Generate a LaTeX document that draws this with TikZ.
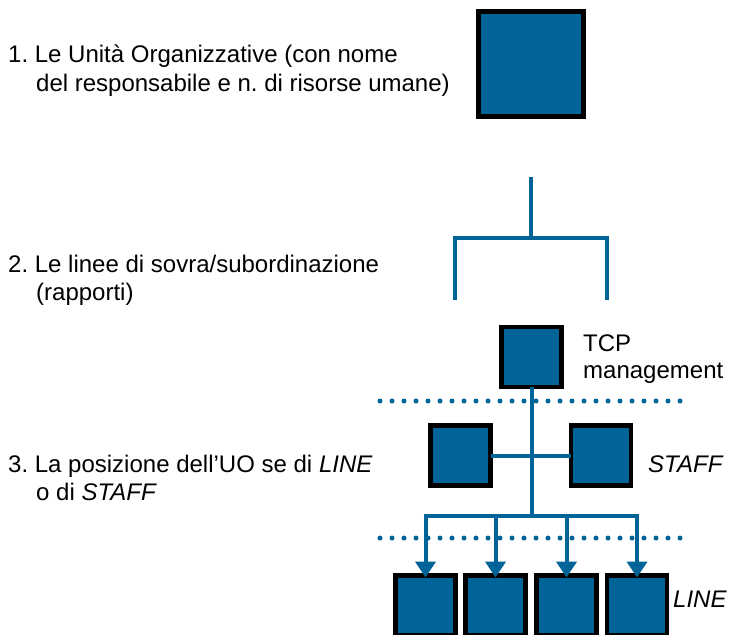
\documentclass[tikz,border=0pt]{standalone}
\usepackage{fontspec}
\setmainfont{Liberation Sans}
\usetikzlibrary{arrows.meta}
\definecolor{uoblue}{RGB}{0,100,152}
\frenchspacing
\begin{document}
\begin{tikzpicture}[x=1bp,y=-1bp,
  ubox/.style={draw=black,fill=uoblue,line width=4.5bp,inner sep=0pt,outer sep=0pt},
  big/.style={ubox,minimum width=105bp,minimum height=105bp},
  small/.style={ubox,minimum width=60bp,minimum height=60bp},
  link/.style={draw=uoblue,line width=4bp},
  arr/.style={link,-{Triangle[width=20bp,length=16bp]}},
  dots/.style={draw=uoblue,line width=5bp,line cap=round,dash pattern=on 0bp off 12bp},
  lbl/.style={anchor=base west,inner sep=0pt,font=\fontsize{24bp}{29bp}\selectfont}]
\useasboundingbox (0,0) rectangle (729,635);

% left-hand captions
\node[lbl] (t1a) at (8,63) {1. Le Unità Organizzative (con nome};
\node[lbl] (t1b) at (36,92) {del responsabile e n. di risorse umane)};
\node[lbl] (t2a) at (8,272) {2. Le linee di sovra/subordinazione};
\node[lbl] (t2b) at (36,300) {(rapporti)};
\node[lbl] (t3a) at (8,472) {3. La posizione dell’UO se di \textit{LINE}};
\node[lbl] (t3b) at (36,500) {o di \textit{STAFF}};

% 1. a single organisational unit
\node[big] (uo) at (531,64) {};

% 2. reporting bracket
\coordinate (bt) at (531,177);
\coordinate (bm) at (531,238);
\coordinate (bl) at (455,238);
\coordinate (br) at (607,238);
\coordinate (bld) at (455,300);
\coordinate (brd) at (607,300);
\draw[link] (bt) -- (bm);
\draw[link] (bld) -- (bl) -- (br) -- (brd);

% 3. top management, staff and line units
\node[small] (tcp) at (531.5,357) {};
\node[lbl] (tcpa) at (583,351) {TCP};
\node[lbl] (tcpb) at (583,378) {management};

\node[small] (sl) at (460.5,455.5) {};
\node[small] (sr) at (601,455.5) {};
\node[lbl] (staff) at (648,472) {\textit{STAFF}};

\node[small] (l1) at (425.5,605.5) {};
\node[small] (l2) at (495.5,605.5) {};
\node[small] (l3) at (566.5,605.5) {};
\node[small] (l4) at (637,605.5) {};
\node[lbl] (line) at (673,607) {\textit{LINE}};

% dotted separators
\coordinate (d1a) at (380,401);
\coordinate (d1b) at (682,401);
\coordinate (d2a) at (380,538);
\coordinate (d2b) at (682,538);
\draw[dots] (d1a) -- (d1b);
\draw[dots] (d2a) -- (d2b);

% connectors
\coordinate (hub) at (531.5,516);
\coordinate (h1) at (425.5,516);
\coordinate (h2) at (495.5,516);
\coordinate (h3) at (566.5,516);
\coordinate (h4) at (637,516);
\draw[link] (sl.east) -- (sr.west);
\draw[link] (tcp.south) -- (hub);
\draw[link] ([xshift=-2bp]h1) -- ([xshift=2bp]h4);
\draw[arr] (h1) -- ([yshift=-2bp]l1.north);
\draw[arr] (h2) -- ([yshift=-2bp]l2.north);
\draw[arr] (h3) -- ([yshift=-2bp]l3.north);
\draw[arr] (h4) -- ([yshift=-2bp]l4.north);
\end{tikzpicture}
\end{document}
